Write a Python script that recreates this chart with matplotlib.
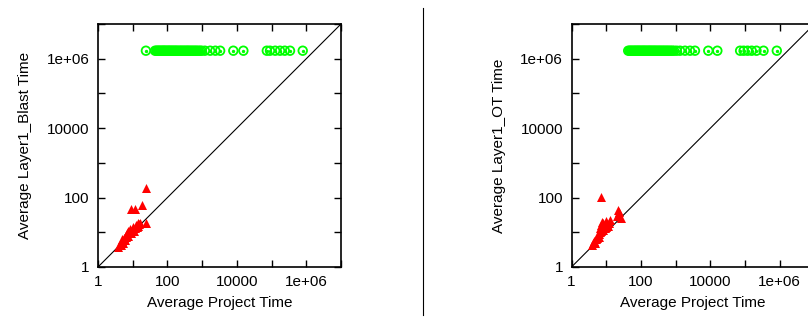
import numpy as np
import matplotlib
matplotlib.use('Agg')
import matplotlib.pyplot as plt
from matplotlib.ticker import FixedLocator, FuncFormatter

plt.rcParams['font.family'] = ['Liberation Sans', 'DejaVu Sans']

# --- data ---
# green circles: failures / timeouts plotted at the top of the y range
blast_fail_x = [24, 44, 48, 52, 56, 60, 65, 70, 75, 80, 86, 92, 100, 108, 115, 125,
                135, 145, 158, 170, 185, 200, 220, 240, 260, 285, 310, 340, 370, 400,
                440, 480, 530, 580, 640, 700, 780, 870, 970, 1200, 1700, 2400, 3300,
                7900, 15400, 73000, 90000, 127000, 175000, 240000, 340000, 790000]
blast_fail_y = [1.7e6] * len(blast_fail_x)

ot_fail_x = [43, 47, 51, 55, 60, 65, 70, 76, 82, 88, 95, 103, 112, 120, 130, 140,
             152, 165, 178, 192, 208, 225, 245, 265, 290, 315, 345, 375, 410, 450,
             490, 540, 590, 650, 720, 800, 900, 1070, 1340, 1860, 2600, 3600, 8700,
             15900, 72000, 91000, 118000, 155000, 213000, 340000, 820000]
ot_fail_y = [1.7e6] * len(ot_fail_x)

# red triangles: solved instances
blast_x = [3.8, 4.2, 4.5, 4.8, 5.0, 5.3, 5.6, 6.0, 6.2, 6.5, 7.0, 7.2, 7.5, 8.0, 8.3,
           8.8, 9.2, 10.0, 10.5, 11.0, 12.0, 12.5, 13.0, 14.0, 15.0, 16.0, 8.9, 11.6,
           19.0, 24.0, 14.0, 24.0]
blast_y = [3.8, 4.5, 4.2, 5.5, 6.5, 5.0, 7.0, 6.0, 8.5, 7.5, 9.5, 11.0, 8.0, 10.0, 12.5,
           9.5, 11.0, 12.0, 14.0, 11.0, 13.0, 16.0, 14.0, 15.5, 17.0, 18.0, 47.0, 47.0,
           61.0, 186.0, 19.0, 19.0]

ot_x = [3.8, 4.2, 4.5, 4.8, 5.0, 5.3, 5.6, 6.0, 6.2, 6.5, 6.8, 7.0, 7.3, 7.5, 8.0, 8.3,
        8.8, 9.2, 9.6, 10.0, 10.5, 11.0, 12.0, 12.8, 6.9, 22.0, 27.0, 20.0, 24.0]
ot_y = [4.3, 4.8, 5.5, 5.0, 6.5, 7.0, 8.0, 7.5, 9.0, 10.0, 13.0, 16.0, 11.0, 20.0, 12.0,
        18.0, 15.0, 13.0, 21.0, 14.0, 17.0, 15.5, 18.0, 22.0, 106.0, 44.0, 25.0, 30.0, 38.0]

decades = [1, 10, 100, 1e3, 1e4, 1e5, 1e6, 1e7]
labels = {1: '1', 100: '100', 1e4: '10000', 1e6: '1e+06'}


def fmt(v, pos):
    for k, s in labels.items():
        if abs(v - k) < 1e-6 * k:
            return s
    return ''


def draw(ax, fx, fy, sx, sy, ylabel):
    ax.set_xscale('log')
    ax.set_yscale('log')
    ax.set_xlim(1, 1e7)
    ax.set_ylim(1, 1e7)
    ax.plot([1, 1e7], [1, 1e7], color='black', lw=0.8, zorder=1)
    ax.scatter(fx, fy, s=38, facecolors='none', edgecolors='#00ff00',
               linewidths=1.3, zorder=2, clip_on=False)
    ax.scatter(fx, fy, s=2, color='#00ff00', zorder=2, clip_on=False)
    ax.scatter(sx, sy, s=42, marker='^', color='#ff0000', linewidths=0, zorder=3)
    for axis in (ax.xaxis, ax.yaxis):
        axis.set_major_locator(FixedLocator(decades))
        axis.set_major_formatter(FuncFormatter(fmt))
        axis.set_minor_locator(FixedLocator([]))
    ax.tick_params(direction='in', length=5, width=1, top=True, right=True,
                   labelsize=11, pad=6)
    for sp in ax.spines.values():
        sp.set_linewidth(1.2)
    ax.set_xlabel('Average Project Time', fontsize=11, labelpad=5)
    ax.set_ylabel(ylabel, fontsize=11)
    ax.yaxis.set_label_coords(-0.27, 0.5)


fig = plt.figure(figsize=(8.08, 3.21), dpi=100)
ax1 = fig.add_axes([98 / 808, 54 / 321, 243 / 808, 243 / 321])
ax2 = fig.add_axes([571.5 / 808, 54 / 321, 243 / 808, 243 / 321])

draw(ax1, blast_fail_x, blast_fail_y, blast_x, blast_y, 'Average Layer1_Blast Time')
draw(ax2, ot_fail_x, ot_fail_y, ot_x, ot_y, 'Average Layer1_OT Time')

fig.add_artist(plt.Line2D([423 / 808, 423 / 808], [6 / 321, 313 / 321],
                          color='black', lw=0.8))

fig.savefig('out.png', dpi=100)
